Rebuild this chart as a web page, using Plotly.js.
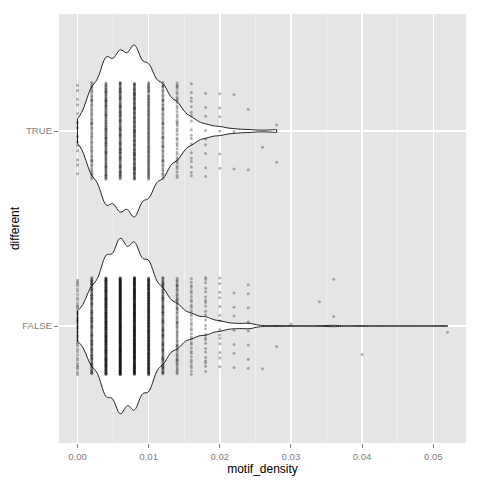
<!DOCTYPE html>
<html><head><meta charset="utf-8">
<script src="https://cdn.plot.ly/plotly-3.0.1.min.js"></script>
<style>html,body{margin:0;padding:0;background:#fff}#chart{width:480px;height:480px}</style>
</head><body><div id="chart"></div>
<script>
// ---- data ----
const groupLabels = ['FALSE', 'TRUE'];
const groupPositions = [1, 2];

const falseDensity = [0, 0.002, 0.004, 0.006, 0.008, 0.010, 0.012, 0.014, 0.016, 0.018, 0.020, 0.022, 0.024, 0.026, 0.028, 0.030, 0.034, 0.036, 0.040, 0.052];
const falseCounts  = [39, 107, 192, 240, 228, 178, 101, 61, 34, 25, 14, 7, 8, 1, 1, 1, 1, 2, 1, 1];

const trueDensity = [0, 0.002, 0.004, 0.006, 0.008, 0.010, 0.012, 0.014, 0.016, 0.018, 0.020, 0.022, 0.024, 0.026, 0.028];
const trueCounts  = [14, 58, 99, 106, 115, 88, 62, 38, 18, 9, 6, 3, 2, 1, 2];

const xTickValues = [0, 0.01, 0.02, 0.03, 0.04, 0.05];
const xTickLabels = ['0.00', '0.01', '0.02', '0.03', '0.04', '0.05'];

// ---- helpers ----
function expandValues(vals, counts) {
  const out = [];
  vals.forEach((v, i) => { for (let k = 0; k < counts[i]; k++) out.push(v); });
  return out;
}
// deterministic vertical jitter (position only, like geom_jitter)
function jitterPositions(vals, counts, pos, seed) {
  const out = [];
  vals.forEach((v, i) => {
    for (let k = 0; k < counts[i]; k++) {
      const u = ((k + 0.371 * i + seed) * 0.6180339887) % 1;
      out.push(pos + (u - 0.5) * 0.5);
    }
  });
  return out;
}

const falseX = expandValues(falseDensity, falseCounts);
const trueX = expandValues(trueDensity, trueCounts);
const falseY = jitterPositions(falseDensity, falseCounts, groupPositions[0], 0.13);
const trueY = jitterPositions(trueDensity, trueCounts, groupPositions[1], 0.57);

const violinStyle = {
  type: 'violin', orientation: 'h', points: false, spanmode: 'hard',
  fillcolor: '#FFFFFF', line: {color: '#222222', width: 1},
  box: {visible: false}, meanline: {visible: false},
  scalemode: 'width', hoverinfo: 'skip', showlegend: false
};

const data = [
  Object.assign({}, violinStyle, {x: falseX, y0: groupPositions[0], width: 0.9, bandwidth: 0.00088, name: 'FALSE'}),
  Object.assign({}, violinStyle, {x: trueX, y0: groupPositions[1], width: 0.88, bandwidth: 0.0009, name: 'TRUE'}),
  {type: 'scatter', mode: 'markers', x: falseX.concat(trueX), y: falseY.concat(trueY),
   marker: {color: 'rgba(0,0,0,0.3)', size: 3, line: {width: 0}}, hoverinfo: 'skip', showlegend: false}
];

const layout = {
  width: 480, height: 480,
  margin: {l: 59, r: 14, t: 14, b: 37},
  paper_bgcolor: '#FFFFFF', plot_bgcolor: '#E5E5E5',
  violinmode: 'overlay',
  showlegend: false,
  font: {family: 'Liberation Sans, Arial, sans-serif'},
  xaxis: {
    range: [-0.0026, 0.0546], autorange: false,
    tickvals: xTickValues, ticktext: xTickLabels,
    ticks: 'outside', ticklen: 4, tickwidth: 1, tickcolor: '#7F7F7F',
    tickfont: {size: 9.6, color: '#7F7F7F'},
    showgrid: true, gridcolor: '#FFFFFF', gridwidth: 1.5,
    minor: {dtick: 0.005, tick0: 0, showgrid: true, gridcolor: '#F2F2F2', gridwidth: 0.75, ticks: ''},
    zeroline: false, showline: false,
    title: {text: 'motif_density', font: {size: 12, color: '#000000'}, standoff: 4}
  },
  yaxis: {
    type: 'linear',
    range: [0.4, 2.6], autorange: false,
    tickvals: groupPositions, ticktext: groupLabels,
    ticks: 'outside', ticklen: 4, tickwidth: 1, tickcolor: '#7F7F7F',
    tickfont: {size: 9.6, color: '#7F7F7F'},
    showgrid: true, gridcolor: '#FFFFFF', gridwidth: 1.5,
    zeroline: false, showline: false,
    title: {text: 'different', font: {size: 12, color: '#000000'}, standoff: 0}
  }
};

Plotly.newPlot('chart', data, layout, {staticPlot: true, displayModeBar: false});
</script>
</body></html>
